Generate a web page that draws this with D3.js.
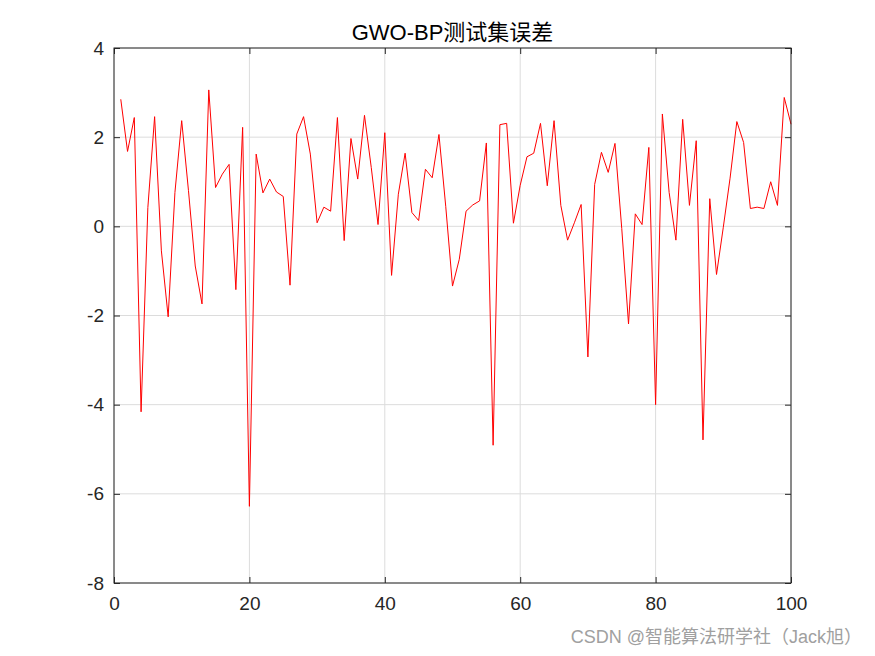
<!DOCTYPE html>
<html><head><meta charset="utf-8">
<script src="https://cdn.jsdelivr.net/npm/d3@7"></script>
<style>
body{margin:0;background:#fff;}
svg{display:block;font-family:"Liberation Sans",Arial,"Noto Sans CJK SC",sans-serif;}
</style></head>
<body>
<script>
const titleText = "GWO-BP测试集误差";
const watermark = "CSDN @智能算法研学社（Jack旭）";
const xTicks = [0,20,40,60,80,100];
const yTicks = [-8,-6,-4,-2,0,2,4];
const errors = [
 2.85,1.68,2.44,-4.16,0.42,2.46,-0.55,-2.03,0.76,2.37,
 0.8,-0.89,-1.74,3.06,0.87,1.17,1.39,-1.42,2.22,-6.28,
 1.62,0.75,1.06,0.77,0.67,-1.32,2.07,2.46,1.62,0.08,
 0.43,0.34,2.44,-0.32,1.97,1.06,2.49,1.32,0.04,2.10,
 -1.10,0.72,1.64,0.31,0.13,1.28,1.09,2.06,0.45,-1.34,
 -0.74,0.34,0.48,0.57,1.87,-4.91,2.28,2.31,0.07,0.92,
 1.56,1.64,2.31,0.91,2.37,0.47,-0.31,0.08,0.49,-2.93,
 0.94,1.66,1.21,1.86,-0.05,-2.19,0.28,0.04,1.77,-4.00,
 2.52,0.76,-0.31,2.40,0.47,1.92,-4.79,0.62,-1.08,-0.02,
 1.08,2.35,1.88,0.40,0.43,0.40,1.00,0.47,2.89,2.29
];
const W=875,H=656;
const m={left:114,right:791,top:48,bottom:583};
const svg=d3.select("body").append("svg").attr("width",W).attr("height",H);
const x=d3.scaleLinear().domain([0,100]).range([m.left,m.right]);
const y=d3.scaleLinear().domain([-8,4]).range([m.bottom,m.top]);

// grid
const g=svg.append("g");
g.selectAll(".vg").data(xTicks).enter().append("line")
 .attr("x1",d=>x(d)).attr("x2",d=>x(d)).attr("y1",m.top).attr("y2",m.bottom)
 .attr("stroke","#dcdcdc").attr("stroke-width",1);
g.selectAll(".hg").data(yTicks).enter().append("line")
 .attr("x1",m.left).attr("x2",m.right).attr("y1",d=>y(d)).attr("y2",d=>y(d))
 .attr("stroke","#dcdcdc").attr("stroke-width",1);

// data line
const line=d3.line().x((d,i)=>x(i+1)).y(d=>y(d));
svg.append("path").datum(errors).attr("d",line)
 .attr("fill","none").attr("stroke","#ff0000").attr("stroke-width",1);

// box
svg.append("rect").attr("x",m.left).attr("y",m.top)
 .attr("width",m.right-m.left).attr("height",m.bottom-m.top)
 .attr("fill","none").attr("stroke","#262626").attr("stroke-width",1);

const fmt = d => String(d);
// axes
const xa=svg.append("g").attr("transform",`translate(0,${m.bottom})`)
 .call(d3.axisBottom(x).tickValues(xTicks).tickSize(-6).tickPadding(14).tickFormat(fmt));
const xa2=svg.append("g").attr("transform",`translate(0,${m.top})`)
 .call(d3.axisTop(x).tickValues(xTicks).tickSize(-6).tickFormat(""));
const ya=svg.append("g").attr("transform",`translate(${m.left},0)`)
 .call(d3.axisLeft(y).tickValues(yTicks).tickSize(-6).tickPadding(10).tickFormat(fmt));
const ya2=svg.append("g").attr("transform",`translate(${m.right},0)`)
 .call(d3.axisRight(y).tickValues(yTicks).tickSize(-6).tickFormat(""));
[xa,xa2,ya,ya2].forEach(a=>{
 a.select(".domain").remove();
 a.selectAll("line").attr("stroke","#262626");
 a.selectAll("text").attr("fill","#262626").style("font-size","19px")
  .style("font-family",'"Liberation Sans",Arial,sans-serif');
});

svg.append("text").attr("x",(m.left+m.right)/2).attr("y",40)
 .attr("text-anchor","middle").attr("fill","#000").style("font-size","22px")
 .text(titleText);

svg.append("text").attr("x",862).attr("y",643).attr("text-anchor","end")
 .attr("fill","#a0a0a0").style("font-size","18px").text(watermark);
</script>
</body></html>
